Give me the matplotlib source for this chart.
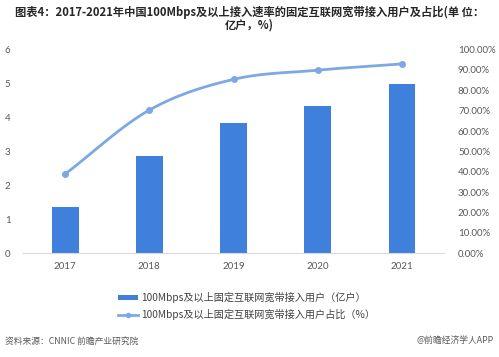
import numpy as np
import matplotlib
matplotlib.use("Agg")
import matplotlib.pyplot as plt
from matplotlib.lines import Line2D
from matplotlib.patches import Patch

plt.rcParams['font.family'] = ['Noto Sans CJK SC', 'DejaVu Sans']

years = ["2017", "2018", "2019", "2020", "2021"]
users = [1.35, 2.86, 3.84, 4.35, 4.98]
share = [38.9, 70.3, 85.4, 89.9, 93.0]
left_ticks = [0, 1, 2, 3, 4, 5, 6]
right_ticks = [0, 10, 20, 30, 40, 50, 60, 70, 80, 90, 100]
bar_label = "100Mbps及以上固定互联网宽带接入用户（亿户）"
line_label = "100Mbps及以上固定互联网宽带接入用户占比（%）"
title = "图表4：2017-2021年中国100Mbps及以上接入速率的固定互联网宽带接入用户及占比(单 位：\n亿户，%)"
source = "资料来源：CNNIC 前瞻产业研究院"
credit = "@前瞻经济学人APP"

bar_color = "#3f80dd"
line_color = "#7ea8e4"
tick_color = "#595959"

fig = plt.figure(figsize=(4.99, 3.57), dpi=100)
ax = fig.add_axes([0.046, 0.2905, 0.844, 0.5705])
ax2 = ax.twinx()

x = np.arange(len(years))
ax.bar(x, users, width=0.32, color=bar_color, zorder=2)
ax.set_ylim(0, 6)
ax.set_xlim(-0.5, len(years) - 0.5)
ax.set_yticks(left_ticks)
ax.set_yticklabels([str(t) for t in left_ticks])
ax.set_xticks(x)
ax.set_xticklabels(years)

# smooth (Catmull-Rom) rendering of the share line
def catmull(xs, ys, n=30):
    xs = np.asarray(xs, float); ys = np.asarray(ys, float)
    px = np.concatenate([[2*xs[0]-xs[1]], xs, [2*xs[-1]-xs[-2]]])
    py = np.concatenate([[2*ys[0]-ys[1]], ys, [2*ys[-1]-ys[-2]]])
    ox, oy = [], []
    for i in range(1, len(px) - 2):
        t = np.linspace(0, 1, n, endpoint=(i == len(px) - 3))
        for arr, out in ((px, ox), (py, oy)):
            p0, p1, p2, p3 = arr[i-1], arr[i], arr[i+1], arr[i+2]
            out.extend(0.5 * ((2*p1) + (-p0 + p2)*t + (2*p0 - 5*p1 + 4*p2 - p3)*t**2
                              + (-p0 + 3*p1 - 3*p2 + p3)*t**3))
    return np.array(ox), np.array(oy)

sx, sy = catmull(x, share)
ax2.plot(sx, sy, color=line_color, lw=2.0, zorder=3, solid_capstyle='round')
ax2.plot(x, share, 'o', color=line_color, ms=4, zorder=4)
ax2.set_ylim(0, 100)
ax2.set_yticks(right_ticks)
ax2.set_yticklabels([f"{t:.2f}%" for t in right_ticks])

for a in (ax, ax2):
    for s in a.spines.values():
        s.set_visible(False)
    a.tick_params(length=0, labelsize=7, labelcolor=tick_color)
ax.spines['bottom'].set_visible(True)
ax.spines['bottom'].set_color("#d9d9d9")
ax.spines['bottom'].set_linewidth(0.8)
ax.tick_params(axis='y', pad=9)
ax.tick_params(axis='x', pad=6)
ax2.tick_params(axis='y', pad=10)
for lab in ax.get_yticklabels() + ax.get_xticklabels() + ax2.get_yticklabels():
    lab.set_fontfamily(['Lato', 'DejaVu Sans'])

fig.text(0.5, 0.985, title, ha='center', va='top', fontsize=8.1,
         fontweight='bold', color='#262626', linespacing=1.05)

handles = [Patch(facecolor=bar_color, edgecolor='none'),
           Line2D([0], [0], color=line_color, lw=2, marker='o', ms=3)]
leg = fig.legend(handles, [bar_label, line_label], loc='upper left',
                 bbox_to_anchor=(0.228, 0.193), frameon=False, fontsize=7.3,
                 handlelength=2.0, handleheight=0.4, handletextpad=0.3,
                 labelspacing=0.55, borderaxespad=0)
for t in leg.get_texts():
    t.set_color('#404040')

fig.text(0.01, 0.045, source, ha='left', va='center', fontsize=6.3, color='#595959')
fig.text(0.99, 0.045, credit, ha='right', va='center', fontsize=6.3, color='#595959')

fig.savefig("out.png", dpi=100)
